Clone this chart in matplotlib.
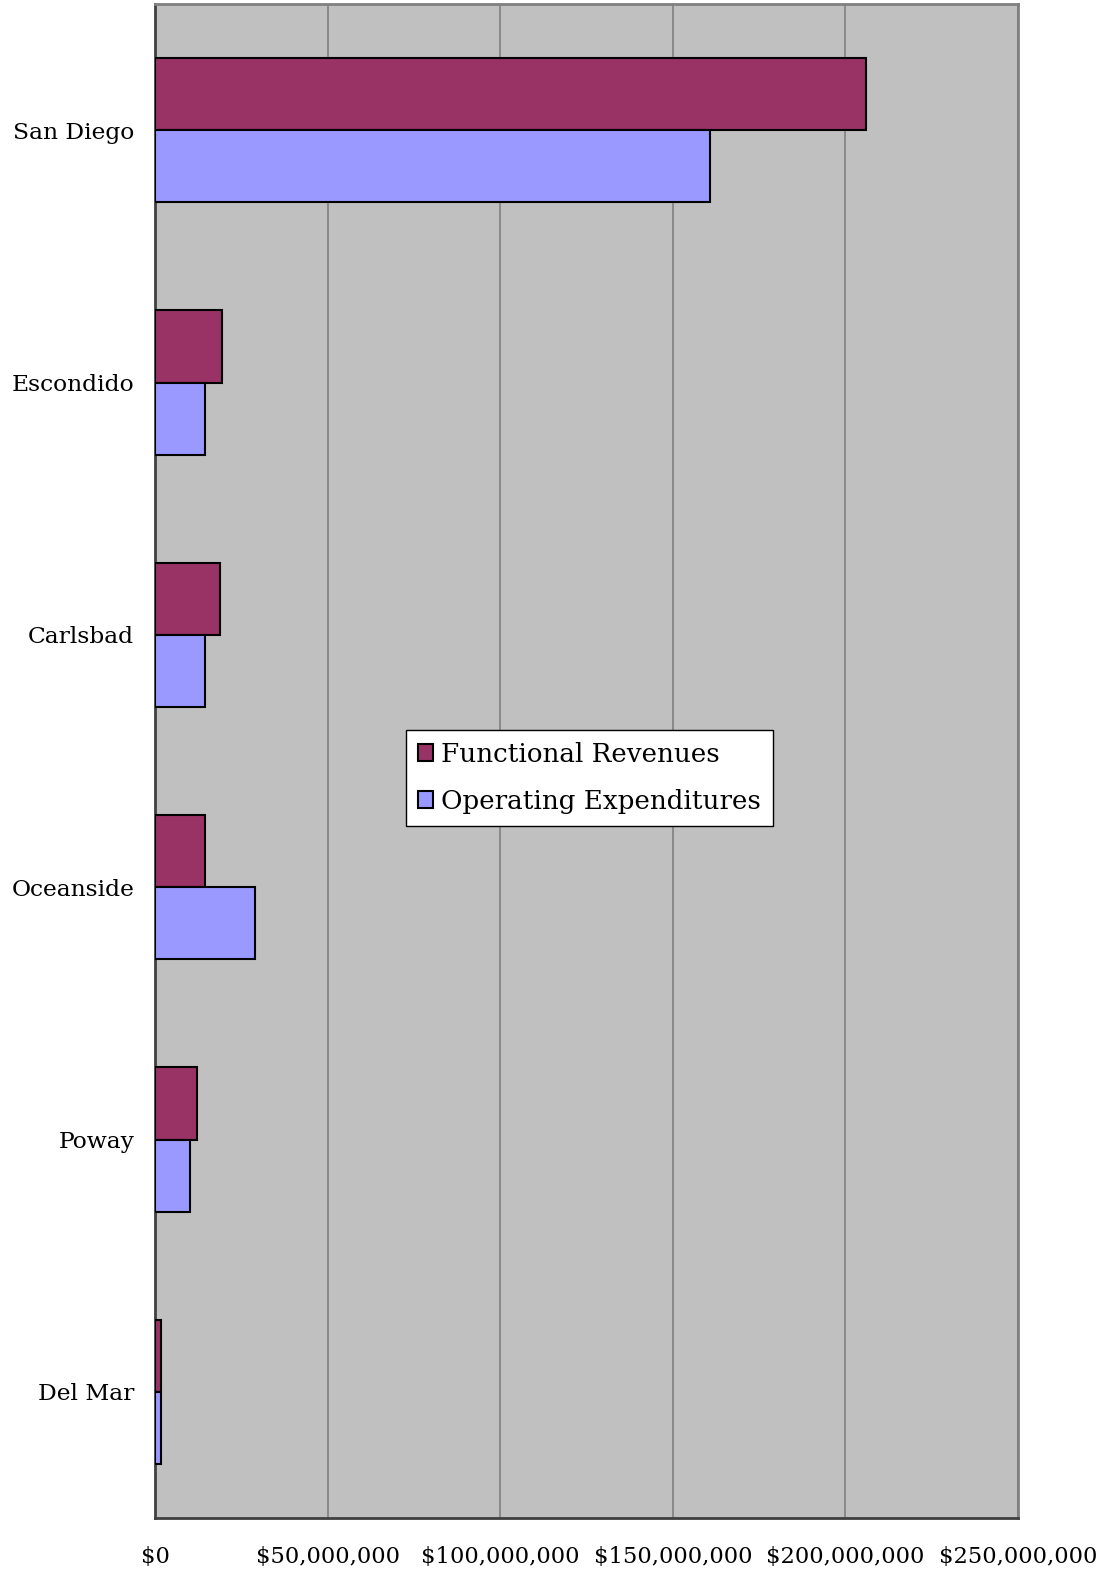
import numpy as np
import matplotlib.pyplot as plt
from matplotlib.ticker import FuncFormatter

# city data (dollars)
cities = ['San Diego', 'Escondido', 'Carlsbad', 'Oceanside', 'Poway', 'Del Mar']
revenues = [206.0e6, 19.5e6, 18.9e6, 14.5e6, 12.2e6, 1.7e6]
expenditures = [160.8e6, 14.5e6, 14.5e6, 29.0e6, 10.2e6, 1.7e6]
xticks = [0, 50e6, 100e6, 150e6, 200e6, 250e6]

plt.rcParams['font.family'] = ['DejaVu Serif']

fig = plt.figure(figsize=(11.05, 15.71), dpi=100)
ax = fig.add_axes([155 / 1105, 1 - 1518 / 1571, 863 / 1105, 1514 / 1571])

y = np.arange(len(cities))
h = 0.286
ax.barh(y - h / 2, revenues, height=h, color='#993366', edgecolor='black',
        linewidth=1.5, label='Functional Revenues', zorder=3)
ax.barh(y + h / 2, expenditures, height=h, color='#9999FF', edgecolor='black',
        linewidth=1.5, label='Operating Expenditures', zorder=3)

ax.set_facecolor('#C0C0C0')
ax.set_xlim(0, 250e6)
ax.set_ylim(len(cities) - 0.5, -0.5)
ax.set_xticks(xticks)
ax.xaxis.set_major_formatter(FuncFormatter(lambda v, p: '${:,.0f}'.format(v)))
ax.set_yticks(y)
ax.set_yticklabels(cities)
ax.tick_params(axis='x', length=0, labelsize=16.3, pad=20)
ax.tick_params(axis='y', length=0, labelsize=16.8, pad=15)
ax.grid(axis='x', color='#808080', linewidth=1.2, zorder=1)

for s in ['left', 'bottom']:
    ax.spines[s].set_color('#404040')
    ax.spines[s].set_linewidth(2)
for s in ['top', 'right']:
    ax.spines[s].set_color('#808080')
    ax.spines[s].set_linewidth(2)

leg = ax.legend(loc='upper left', bbox_to_anchor=((406 - 155) / 863, (1518 - 730) / 1514),
                fontsize=18.8, frameon=True, fancybox=False, edgecolor='black',
                handlelength=0.6, handleheight=0.6, handletextpad=0.3,
                borderpad=0.45, labelspacing=0.85, borderaxespad=0)
leg.get_frame().set_linewidth(1)
leg.get_frame().set_facecolor('white')
leg.get_frame().set_alpha(1)

fig.savefig('out.png', dpi=100)
